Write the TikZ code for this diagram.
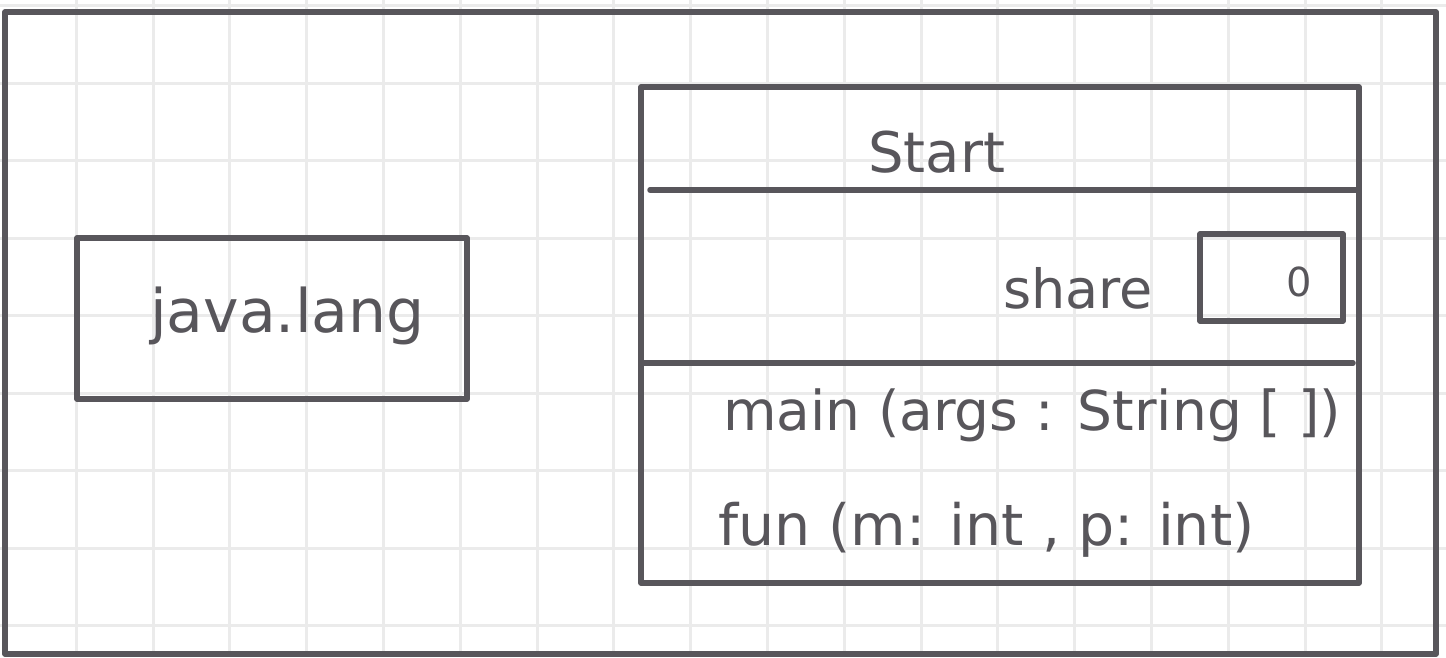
\documentclass[tikz,border=0pt]{standalone}
\usepackage{fontspec}
\setmainfont{DejaVu Sans}
\definecolor{ink}{HTML}{58565B}
\definecolor{gridc}{HTML}{EBEBEB}
\begin{document}
\begin{tikzpicture}[x=1pt,y=-1pt,
  box/.style={draw=ink,line width=5.5pt,line join=round,inner sep=0pt,minimum width=#1},
  divider/.style={draw=ink,line width=5.5pt,line cap=round},
  hand/.style={anchor=base west,inner sep=0pt,text=ink,font=\fontsize{#1}{#1}\selectfont},
  gridline/.style={draw=gridc,line width=3pt}]
\useasboundingbox (0,0) rectangle (1446,657);
\fill[white] (0,0) rectangle (1446,657);
% grid
\foreach \i in {0,...,17} {\draw[gridline] ({76.2+76.8*\i},0) -- ({76.2+76.8*\i},657);}
\foreach \j in {-1,...,7} {\draw[gridline] (0,{83.3+77.5*\j}) -- (1446,{83.3+77.5*\j});}
% outer frame
\node[box=1431pt,minimum height=642pt] (frame) at (720.5,333) {};
% java.lang package
\node[box=390pt,minimum height=161pt] (java) at (272,318.5) {};
\node[hand=60pt] (javatext) at (150,332) {java.lang};
% class Start
\node[box=718pt,minimum height=496pt] (start) at (1000,335) {};
\coordinate (d1l) at (650,190); \coordinate (d1r) at (1357,190);
\coordinate (d2l) at (641,363); \coordinate (d2r) at (1353,363);
\draw[divider] (d1l) -- (d1r);
\draw[divider] (d2l) -- (d2r);
\node[hand=56pt] (name) at (868,172) {Start};
\node[hand=54pt] (share) at (1003,308) {share};
\node[box=143pt,minimum height=87pt] (sharebox) at (1271.5,277.5) {};
\node[hand=40pt] (zero) at (1286,296) {0};
\node[hand=55pt] (main) at (723,430) {main (args : String [ ])};
\node[hand=57pt] (fun) at (718,545) {fun (m: int , p: int)};
\end{tikzpicture}
\end{document}
